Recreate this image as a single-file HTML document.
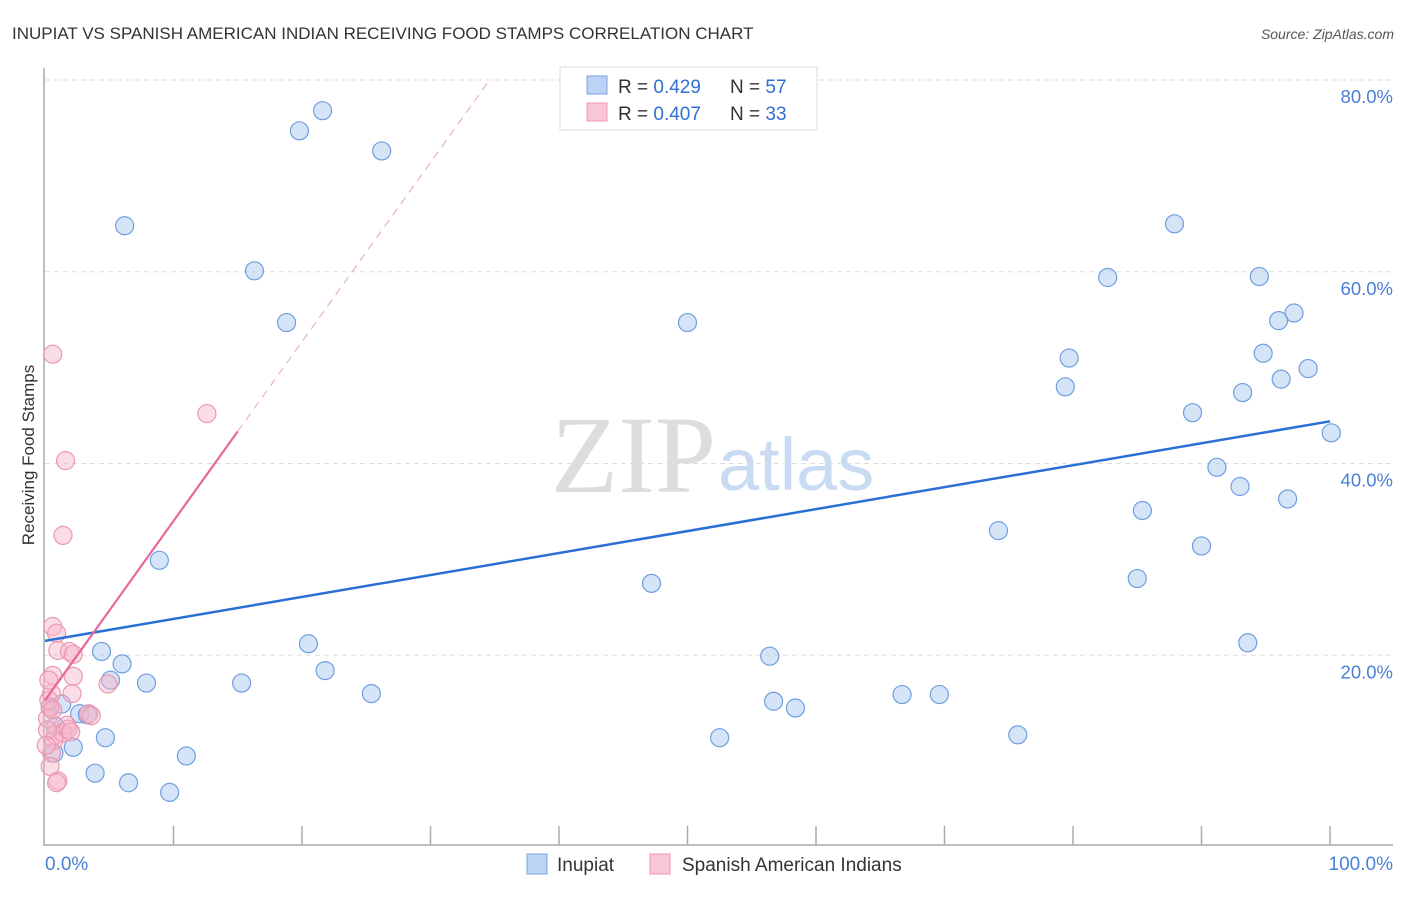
<!DOCTYPE html>
<html><head><meta charset="utf-8"><style>
body{margin:0;background:#fff;font-family:"Liberation Sans",sans-serif}
svg text{font-family:"Liberation Sans",sans-serif}
</style></head><body>
<svg id="c" width="1406" height="892">
<text x="12" y="39" font-size="17" fill="#333">INUPIAT VS SPANISH AMERICAN INDIAN RECEIVING FOOD STAMPS CORRELATION CHART</text>
<text x="1394" y="39" font-size="14" fill="#555" text-anchor="end" font-style="italic">Source: ZipAtlas.com</text>
<text x="34" y="455" font-size="17" fill="#333" text-anchor="middle" transform="rotate(-90 34 455)">Receiving Food Stamps</text>
<text x="716" y="492" font-size="110" fill="#ddd" text-anchor="end" style="font-family:'Liberation Serif',serif">ZIP</text>
<text x="718" y="490" font-size="74" fill="#c9dbf3">atlas</text>
<g id="grid"></g><g id="pts"></g><g id="lines"></g>
<g>
<rect x="560" y="67" width="257" height="63" fill="#fff" stroke="#ddd"/>
<rect x="587" y="76" width="20" height="18" fill="#bcd3f5" stroke="#7aa3e0"/>
<rect x="587" y="103" width="20" height="18" fill="#f9c6d5" stroke="#ec98b0"/>
<text x="618" y="93" font-size="19" fill="#333">R = <tspan fill="#2f6fd6">0.429</tspan></text>
<text x="730" y="93" font-size="19" fill="#333">N = <tspan fill="#2f6fd6">57</tspan></text>
<text x="618" y="120" font-size="19" fill="#333">R = <tspan fill="#2f6fd6">0.407</tspan></text>
<text x="730" y="120" font-size="19" fill="#333">N = <tspan fill="#2f6fd6">33</tspan></text>
</g>
<g>
<rect x="527" y="854" width="20" height="20" fill="#bcd3f5" stroke="#7aa3e0"/>
<text x="557" y="871" font-size="19" fill="#333">Inupiat</text>
<rect x="650" y="854" width="20" height="20" fill="#f9c6d5" stroke="#ec98b0"/>
<text x="682" y="871" font-size="19" fill="#333">Spanish American Indians</text>
</g>
</svg>
<script>
const yTicks=[20,40,60,80];
const xTickLabels=["0.0%","100.0%"];
const blueX=[21.6,19.8,26.2,6.2,16.3,18.8,50.0,87.9,82.7,94.5,97.2,96.0,94.8,79.7,98.3,96.2,79.4,93.2,89.3,100.1,91.2,93.0,96.7,85.4,74.2,90.0,8.9,85.0,47.2,93.6,20.5,4.4,56.4,6.0,21.8,5.1,7.9,15.3,25.4,66.7,69.6,56.7,1.3,58.4,2.7,3.3,0.8,4.7,52.5,75.7,2.2,0.7,11.0,3.9,6.5,9.7,0.4];
const blueY=[76.8,74.7,72.6,64.8,60.1,54.7,54.7,65.0,59.4,59.5,55.7,54.9,51.5,51.0,49.9,48.8,48.0,47.4,45.3,43.2,39.6,37.6,36.3,35.1,33.0,31.4,29.9,28.0,27.5,21.3,21.2,20.4,19.9,19.1,18.4,17.4,17.1,17.1,16.0,15.9,15.9,15.2,14.9,14.5,13.9,13.8,12.6,11.4,11.4,11.7,10.4,9.8,9.5,7.7,6.7,5.7,14.6];
const pinkX=[0.6,12.6,1.6,1.4,0.6,0.9,1.0,1.9,2.2,0.6,2.2,0.5,2.1,0.4,3.4,1.7,0.8,0.7,0.2,1.0,4.9,0.5,0.4,3.6,1.4,0.2,0.3,1.8,2.0,0.9,0.1,0.3,0.6];
const pinkY=[51.4,45.2,40.3,32.5,23.0,22.3,20.5,20.4,20.1,17.9,17.8,16.0,16.0,14.5,13.9,12.7,11.7,11.1,13.4,6.9,17.0,9.8,8.4,13.7,11.9,12.2,15.3,12.3,12.0,6.7,10.6,17.4,14.3];
const blueTrend=[21.5,44.4];
const pinkTrend=[15.3,1.87];
const NS="http://www.w3.org/2000/svg";
const X=v=>45+12.85*v, Y=v=>847-9.5875*v;
function mk(t,a,p){const e=document.createElementNS(NS,t);for(const k in a)e.setAttribute(k,a[k]);document.getElementById(p).appendChild(e);return e;}
yTicks.forEach(t=>{
 const l=mk('line',{x1:45,x2:1393,y1:Y(t),y2:Y(t),stroke:'#ddd','stroke-dasharray':'5,4'},'grid');
 
 
 const tx=mk('text',{x:1393,y:Y(t)+23,'font-size':18.5,fill:'#4a7fd6','text-anchor':'end'},'grid');
 tx.textContent=t.toFixed(1)+'%';
 
 
});
mk('line',{x1:44,x2:44,y1:68,y2:846,stroke:'#aaa','stroke-width':1.5},'grid');
mk('line',{x1:44,x2:1393,y1:845,y2:845,stroke:'#aaa','stroke-width':1.5},'grid');
for(let i=1;i<=10;i++){mk('line',{x1:X(i*10),x2:X(i*10),y1:826,y2:845,stroke:'#aaa','stroke-width':1.5},'grid');}
[[0,45,'start'],[100,1393,'end']].forEach((d,i)=>{const t=mk('text',{x:d[1],y:870,'font-size':19,fill:'#4a7fd6','text-anchor':d[2]},'grid');t.textContent=xTickLabels[i];
 
 });
blueX.forEach((x,i)=>{const c=mk('circle',{cx:X(x),cy:Y(blueY[i]),r:9,fill:'rgba(180,205,243,0.55)',stroke:'#6f9ee0','stroke-width':1.2},'pts');
 
 });
pinkX.forEach((x,i)=>{const c=mk('circle',{cx:X(x),cy:Y(pinkY[i]),r:9,fill:'rgba(246,180,200,0.45)',stroke:'#eb98b2','stroke-width':1.2},'pts');
 
 });
const bl=mk('line',{x1:X(0),y1:Y(blueTrend[0]),x2:X(100),y2:Y(blueTrend[1]),stroke:'#2a6fd6','stroke-width':2.5},'lines');


const xs=15, xe=(80-pinkTrend[0])/pinkTrend[1];
const pl=mk('line',{x1:X(0),y1:Y(pinkTrend[0]),x2:X(xs),y2:Y(pinkTrend[0]+pinkTrend[1]*xs),stroke:'#e8679a','stroke-width':2.2},'lines');


const pd=mk('line',{x1:X(xs),y1:Y(pinkTrend[0]+pinkTrend[1]*xs),x2:X(xe),y2:Y(80),stroke:'#eaa0bb','stroke-width':1,'stroke-dasharray':'8,6'},'lines');


</script>
</body></html>
